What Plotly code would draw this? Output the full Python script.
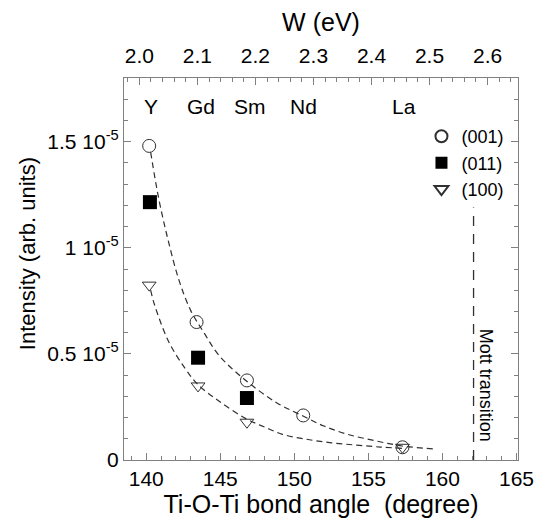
import plotly.graph_objects as go

# ---- data (intensity in units of 1e-5) ----
angle_001 = [140.2, 143.4, 146.8, 150.6, 157.3]
int_001 = [1.48, 0.65, 0.375, 0.21, 0.06]
angle_011 = [140.25, 143.5, 146.8]
int_011 = [1.215, 0.482, 0.292]
angle_100 = [140.2, 143.5, 146.8, 157.3]
int_100 = [0.824, 0.349, 0.178, 0.06]

fit_up_x = [140.3, 140.85, 141.5, 142.2, 143.0, 143.9, 144.9, 146.7, 148.8, 150.5, 152.0, 153.6, 155.5, 157.3, 159.4]
fit_up_y = [1.45, 1.23, 1.03, 0.85, 0.705, 0.60, 0.494, 0.376, 0.27, 0.21, 0.16, 0.121, 0.09, 0.066, 0.052]
fit_low_x = [140.3, 140.55, 141.5, 142.6, 143.5, 144.9, 146.7, 148.0, 149.2, 150.8, 152.5, 154.2, 155.8, 157.3]
fit_low_y = [0.80, 0.734, 0.56, 0.434, 0.355, 0.278, 0.196, 0.155, 0.121, 0.098, 0.081, 0.07, 0.061, 0.055]

mott_x = 162.1
mott_top = 1.19

elements = ["Y", "Gd", "Sm", "Nd", "La"]
element_angles = [140.3, 143.7, 147.0, 150.6, 157.4]
element_y = 1.665

x_ticks = [140, 145, 150, 155, 160, 165]
y_ticks = [0, 0.5, 1.0, 1.5]
y_ticktext = ["0", "0.5 10<sup>-5</sup>", "1 10<sup>-5</sup>", "1.5 10<sup>-5</sup>"]
w_ticks = [2.0, 2.1, 2.2, 2.3, 2.4, 2.5, 2.6]
w_ticktext = ["2.0", "2.1", "2.2", "2.3", "2.4", "2.5", "2.6"]

SCALE = 1e-5
FONT = "Liberation Sans, Arial, Helvetica, sans-serif"
AXCOL = "#808080"
DARK = "#303030"

fig = go.Figure()

fig.add_trace(go.Scatter(x=fit_up_x, y=[v * SCALE for v in fit_up_y], mode="lines",
                         line=dict(color=DARK, width=1.2, dash="6px,4px", shape="spline"),
                         showlegend=False, hoverinfo="skip"))
fig.add_trace(go.Scatter(x=fit_low_x, y=[v * SCALE for v in fit_low_y], mode="lines",
                         line=dict(color=DARK, width=1.2, dash="6px,4px", shape="spline"),
                         showlegend=False, hoverinfo="skip"))
fig.add_trace(go.Scatter(x=[mott_x, mott_x], y=[0, mott_top * SCALE], mode="lines",
                         line=dict(color=DARK, width=1.3, dash="10px,8px"),
                         showlegend=False, hoverinfo="skip"))

fig.add_trace(go.Scatter(x=angle_001, y=[v * SCALE for v in int_001], mode="markers", name="(001)",
                         marker=dict(symbol="circle-open", size=13, color=DARK, line=dict(width=1))))
fig.add_trace(go.Scatter(x=angle_011, y=[v * SCALE for v in int_011], mode="markers", name="(011)",
                         marker=dict(symbol="square", size=14, color="black")))
fig.add_trace(go.Scatter(x=angle_100, y=[v * SCALE for v in int_100], mode="markers", name="(100)",
                         marker=dict(symbol="triangle-down-open", size=12, color=DARK, line=dict(width=1))))

# invisible trace to activate the top W axis
fig.add_trace(go.Scatter(x=[w_ticks[0]], y=[0], xaxis="x2", mode="markers",
                         marker=dict(opacity=0), showlegend=False, hoverinfo="skip"))

for name, ang in zip(elements, element_angles):
    fig.add_annotation(x=ang, y=element_y * SCALE, text=name, showarrow=False,
                       font=dict(size=21, color="black", family=FONT))

fig.add_annotation(x=162.95, y=0.354 * SCALE, text="Mott transition", textangle=90,
                   showarrow=False, font=dict(size=18, color="black", family=FONT))

fig.add_annotation(xref="paper", yref="paper", x=-0.245, y=0.54, xanchor="center", yanchor="middle",
                   text="Intensity (arb. units)", textangle=-90, showarrow=False,
                   font=dict(size=22, color="black", family=FONT))

fig.update_layout(
    width=548, height=518,
    margin=dict(l=116, r=38, t=55, b=61),
    paper_bgcolor="white", plot_bgcolor="white",
    font=dict(family=FONT, size=21, color="black"),
    legend=dict(x=0.755, y=0.895, xanchor="left", yanchor="top", bgcolor="rgba(0,0,0,0)",
                font=dict(size=18, family=FONT), tracegroupgap=0, itemsizing="constant"),
    xaxis=dict(range=[138.5, 165.1], tickvals=x_ticks, ticks="inside", ticklen=7,
               tickcolor=AXCOL, showline=True, linecolor=AXCOL, linewidth=1.2,
               showgrid=False, zeroline=False,
               minor=dict(dtick=1, ticks="inside", ticklen=4, tickcolor=AXCOL),
               title=dict(text="Ti-O-Ti bond angle\u00a0 (degree)", standoff=6),
               tickfont=dict(size=21)),
    xaxis2=dict(range=[1.9735, 2.6525], overlaying="x", side="top", anchor="y",
                tickvals=w_ticks, ticktext=w_ticktext, ticks="inside", ticklen=7,
                tickcolor=AXCOL, showline=True, linecolor=AXCOL, linewidth=1.2,
                showgrid=False, zeroline=False, ticklabelstandoff=6,
                minor=dict(dtick=0.02, ticks="inside", ticklen=4, tickcolor=AXCOL),
                title=dict(text="W (eV)", standoff=6), tickfont=dict(size=21)),
    yaxis=dict(range=[0, 1.8 * SCALE], tickvals=[v * SCALE for v in y_ticks], ticktext=y_ticktext,
               ticks="inside", ticklen=7, tickcolor=AXCOL, showline=True, linecolor=AXCOL,
               linewidth=1.2, mirror="ticks", showgrid=False, zeroline=False,
               minor=dict(dtick=0.1 * SCALE, ticks="inside", ticklen=4, tickcolor=AXCOL),
               tickfont=dict(size=21)),
)

fig.write_html("out.html")
